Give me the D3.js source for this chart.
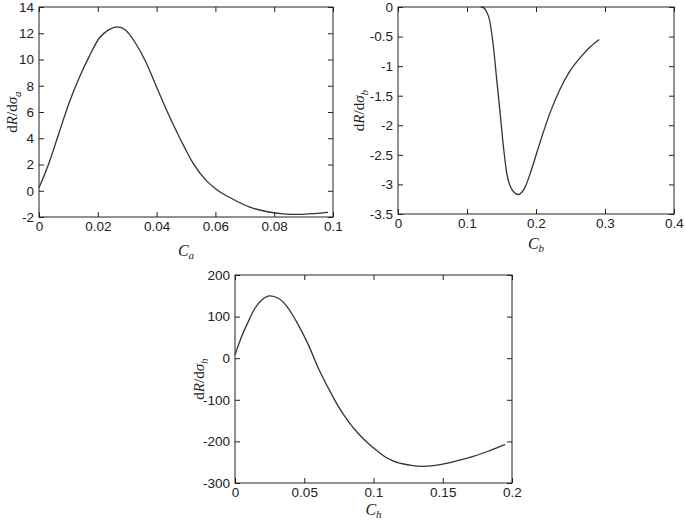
<!DOCTYPE html>
<html>
<head>
<meta charset="UTF-8">
<style>
  body { margin: 0; background: #fff; }
  svg { display: block; }
  .tick text { font-family: "Liberation Sans", Arial, sans-serif; font-size: 13.5px; fill: #222; }
  .lab { font-family: "Liberation Serif", "Times New Roman", serif; fill: #222; }
</style>
</head>
<body>
<svg id="chart" width="685" height="520"></svg>
<script src="https://d3js.org/d3.v7.min.js"></script>
<script>
// panel a
const aX = [0, 0.0034, 0.0068, 0.0102, 0.0136, 0.017, 0.0204, 0.0238, 0.0266, 0.0295, 0.0329, 0.0363, 0.0397, 0.0431, 0.0465, 0.0499, 0.0524, 0.057, 0.0604, 0.066, 0.0717, 0.0773, 0.083, 0.0887, 0.0943, 0.0983];
const aY = [0.22, 2.12, 4.4, 6.67, 8.57, 10.2, 11.6, 12.28, 12.48, 12.23, 11.22, 9.83, 8.06, 6.29, 4.65, 3.13, 2.1, 0.75, 0.1, -0.65, -1.25, -1.58, -1.76, -1.8, -1.72, -1.64];
const aXTicks = ["0", "0.02", "0.04", "0.06", "0.08", "0.1"];
const aYTicks = ["-2", "0", "2", "4", "6", "8", "10", "12", "14"];

// panel b
const bX = [0.12, 0.1213, 0.131, 0.1382, 0.143, 0.148, 0.1527, 0.1575, 0.1648, 0.1744, 0.184, 0.1937, 0.2058, 0.2203, 0.2348, 0.2493, 0.2638, 0.278, 0.2916];
const bY = [0, 0, -0.15, -0.66, -1.22, -1.79, -2.35, -2.8, -3.08, -3.17, -3.05, -2.74, -2.29, -1.79, -1.39, -1.08, -0.86, -0.68, -0.55];
const bXTicks = ["0", "0.1", "0.2", "0.3", "0.4"];
const bYTicks = ["-3.5", "-3", "-2.5", "-2", "-1.5", "-1", "-0.5", "0"];

// panel h
const hX = [0, 0.0048, 0.0096, 0.0144, 0.0193, 0.0253, 0.0313, 0.0385, 0.0457, 0.053, 0.0602, 0.0674, 0.0746, 0.0818, 0.089, 0.0963, 0.1035, 0.1083, 0.114, 0.126, 0.136, 0.148, 0.160, 0.172, 0.184, 0.195];
const hY = [8, 52, 88, 120, 140, 150, 144, 120, 80, 32, -24, -72, -116, -152, -181, -205, -225, -237, -247, -257, -260, -256, -247, -236, -222, -208];
const hXTicks = ["0", "0.05", "0.1", "0.15", "0.2"];
const hYTicks = ["-300", "-200", "-100", "0", "100", "200"];

const svg = d3.select("#chart");

function panel(opt) {
  const x = d3.scaleLinear().domain(opt.xDom).range([opt.left, opt.right]);
  const y = d3.scaleLinear().domain(opt.yDom).range([opt.bottom, opt.top]);
  const g = svg.append("g");
  const xt = opt.xTicks.map(Number), yt = opt.yTicks.map(Number);
  const fx = d => opt.xTicks[xt.indexOf(d)], fy = d => opt.yTicks[yt.indexOf(d)];

  const styleAxis = (sel) => {
    sel.select(".domain").remove();
    sel.selectAll(".tick line").attr("stroke", "#222");
  };
  g.append("g").attr("transform", `translate(0,${opt.bottom})`)
    .call(d3.axisBottom(x).tickValues(xt).tickFormat(fx).tickSizeInner(-5).tickPadding(4))
    .call(styleAxis);
  g.append("g").attr("transform", `translate(0,${opt.top})`)
    .call(d3.axisTop(x).tickValues(xt).tickFormat("").tickSizeInner(-5))
    .call(styleAxis);
  g.append("g").attr("transform", `translate(${opt.left},0)`)
    .call(d3.axisLeft(y).tickValues(yt).tickFormat(fy).tickSizeInner(-5).tickPadding(5))
    .call(styleAxis);
  g.append("g").attr("transform", `translate(${opt.right},0)`)
    .call(d3.axisRight(y).tickValues(yt).tickFormat("").tickSizeInner(-5))
    .call(styleAxis);
  g.selectAll(".tick text").attr("font-family", null).attr("font-size", null);

  g.append("rect")
    .attr("x", opt.left).attr("y", opt.top)
    .attr("width", opt.right - opt.left).attr("height", opt.bottom - opt.top)
    .attr("fill", "none").attr("stroke", "#222").attr("stroke-width", 1);

  const pts = opt.xs.map((v, i) => [v, opt.ys[i]]);
  g.append("path")
    .datum(pts)
    .attr("fill", "none").attr("stroke", "#333").attr("stroke-width", 1.3)
    .attr("d", d3.line().x(d => x(d[0])).y(d => y(d[1])).curve(d3.curveMonotoneX));

  // y label: dR/dσ_s
  const yl = g.append("text").attr("class", "lab")
    .attr("transform", `translate(${opt.ylx},${(opt.top + opt.bottom) / 2}) rotate(-90)`)
    .attr("text-anchor", "middle").attr("font-size", 15);
  yl.append("tspan").text("d");
  yl.append("tspan").attr("font-style", "italic").text("R");
  yl.append("tspan").text("/d");
  yl.append("tspan").attr("font-style", "italic").text("σ");
  yl.append("tspan").attr("font-style", "italic").attr("font-size", 11).attr("dy", 4).text(opt.sub);

  // x label: C_s
  const xl = g.append("text").attr("class", "lab")
    .attr("x", (opt.left + opt.right) / 2).attr("y", opt.xly)
    .attr("text-anchor", "middle").attr("font-size", 16);
  xl.append("tspan").attr("font-style", "italic").text("C");
  xl.append("tspan").attr("font-style", "italic").attr("font-size", 11).attr("dy", 3).text(opt.sub);
}

panel({ xDom: [0, 0.1], yDom: [-2, 14], left: 39, right: 333, top: 7, bottom: 217,
  xs: aX, ys: aY, xTicks: aXTicks, yTicks: aYTicks, sub: "a", ylx: 17, xly: 256 });
panel({ xDom: [0, 0.4], yDom: [-3.5, 0], left: 398, right: 674, top: 7, bottom: 214,
  xs: bX, ys: bY, xTicks: bXTicks, yTicks: bYTicks, sub: "b", ylx: 364, xly: 249 });
panel({ xDom: [0, 0.2], yDom: [-300, 200], left: 235, right: 512, top: 275, bottom: 483,
  xs: hX, ys: hY, xTicks: hXTicks, yTicks: hYTicks, sub: "h", ylx: 204, xly: 515 });
</script>
</body>
</html>
